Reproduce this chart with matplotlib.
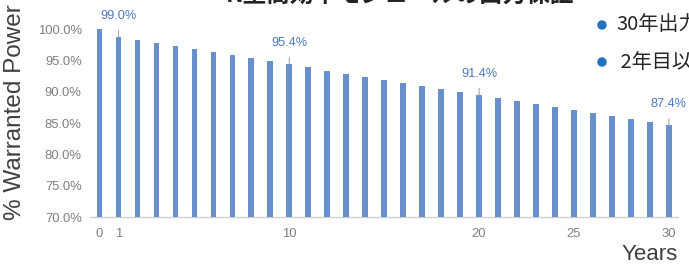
import matplotlib.pyplot as plt
from matplotlib.patches import Ellipse

# warranted power per year (%)
years = list(range(0, 31))
values = [100.0, 99.0, 98.6, 98.2, 97.8, 97.4, 97.0, 96.6, 96.2, 95.8,
          95.4, 95.0, 94.6, 94.2, 93.8, 93.4, 93.0, 92.6, 92.2, 91.8,
          91.4, 91.0, 90.6, 90.2, 89.8, 89.4, 89.0, 88.6, 88.2, 87.8,
          87.4]
labelled_years = [1, 10, 20, 30]
xtick_values = [0, 1, 10, 20, 25, 30]
ytick_values = [70, 75, 80, 85, 90, 95, 100]

title = "N型高効率モジュールの出力保証"
bullets = ["30年出力保証", " 2年目以降の年間劣化率0.4%"]

cjk = ["Noto Sans CJK JP", "DejaVu Sans"]
plt.rcParams['font.family'] = ['Liberation Sans', 'DejaVu Sans']

bar_color = "#6890cc"
label_color = "#4a78c4"
tick_color = "#7f7f7f"
text_color = "#404040"

fig = plt.figure(figsize=(6.89, 2.66), dpi=100)
ax = fig.add_axes([90/689, 1-217/266, 588.4/689, 187.7/266])
ax.set_xlim(-0.5, 30.5)
ax.set_ylim(70, 100)
ax.set_yticks(ytick_values)
ax.set_yticklabels(["%.1f%%" % v for v in ytick_values])
ax.set_xticks(xtick_values)
ax.set_xticklabels([str(v) for v in xtick_values])
for s in ['left', 'top', 'right']:
    ax.spines[s].set_visible(False)
ax.spines['bottom'].set_color("#cfcfcf")
ax.spines['bottom'].set_linewidth(1.0)
ax.spines['bottom'].set_zorder(3)
ax.tick_params(axis='y', length=0, colors=tick_color, labelsize=9.4, pad=6)
ax.tick_params(axis='x', length=0, colors=tick_color, labelsize=9.4, pad=8)

# bars are scaled on their own axis, as in the source chart
bx = ax.twinx()
bx.set_ylim(75.4, 100.0)
bx.axis('off')
bx.bar(years, values, width=0.3, color=bar_color, zorder=2)

for y in labelled_years:
    v = values[y]
    bx.annotate("%.1f%%" % v, xy=(y, v), xytext=(0, 21), textcoords='offset pixels',
                ha='center', va='center', color=label_color, fontsize=9.2,
                annotation_clip=False,
                arrowprops=dict(arrowstyle='-', color='#a6a6a6', lw=0.8,
                                shrinkA=4, shrinkB=0))

fig.text(15/689, 1-112/266, "% Warranted Power", rotation=90, ha='center', va='center',
         fontsize=17.5, color=text_color)
fig.text(678/689, 1-255/266, "Years", ha='right', va='center', fontsize=16, color=text_color)

fig.text(400/689, 1-2/266, title, ha='center', va='baseline', fontsize=17,
         fontweight='bold', color='#222222', family=cjk)

for i, b in enumerate(bullets):
    yc = 1 - (25 + 37*i)/266
    fig.patches.append(Ellipse((602/689, yc), 8/689, 8/266, color="#1f72c0",
                               transform=fig.transFigure, figure=fig))
    fig.text(616/689, yc, b, ha='left', va='center', fontsize=14.5, color='#262626', family=cjk)

fig.savefig("out.png", dpi=100)
